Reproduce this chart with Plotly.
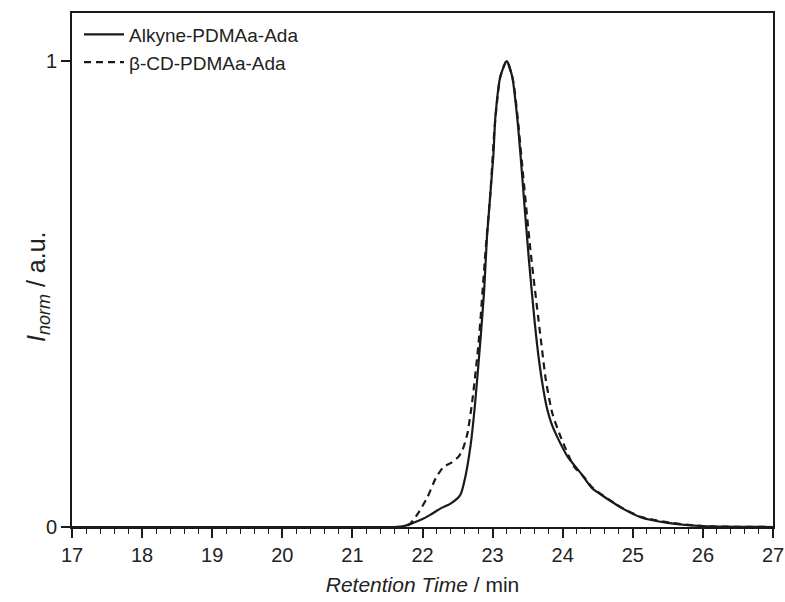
import plotly.graph_objects as go

# Retention time (min) and normalised intensity
t_alkyne = [17.0, 21.5, 21.69, 21.87, 22.0, 22.11, 22.26, 22.4, 22.54, 22.61, 22.69, 22.75,
            22.83, 22.88, 22.92, 23.01, 23.04, 23.11, 23.2, 23.28, 23.35, 23.4, 23.46, 23.52,
            23.6, 23.66, 23.73, 23.78, 23.84, 23.92, 24.07, 24.26, 24.42, 24.64, 24.85,
            25.11, 25.5, 26.0, 27.0]
i_alkyne = [0.0, 0.0, 0.0, 0.009, 0.017, 0.026, 0.04, 0.05, 0.069, 0.107, 0.18, 0.265,
            0.408, 0.509, 0.623, 0.795, 0.88, 0.966, 1.0, 0.966, 0.88, 0.795, 0.68, 0.57,
            0.44, 0.36, 0.29, 0.252, 0.222, 0.194, 0.151, 0.115, 0.083, 0.06, 0.04,
            0.021, 0.009, 0.002, 0.0]

t_cd = [17.0, 21.6, 21.8, 21.94, 22.07, 22.19, 22.3, 22.4, 22.51, 22.57, 22.64, 22.71,
        22.8, 22.9, 22.97, 23.03, 23.11, 23.2, 23.29, 23.36, 23.42, 23.54, 23.69, 23.76,
        23.85, 23.97, 24.16, 24.3, 24.42, 24.64, 24.85, 25.11, 25.5, 26.0, 27.0]
i_cd = [0.0, 0.0, 0.004, 0.03, 0.064, 0.105, 0.129, 0.137, 0.15, 0.165, 0.2, 0.27,
        0.395, 0.594, 0.72, 0.86, 0.966, 1.0, 0.96, 0.875, 0.78, 0.594, 0.40, 0.315,
        0.245, 0.194, 0.13, 0.108, 0.085, 0.061, 0.041, 0.022, 0.01, 0.002, 0.0]

names = ["Alkyne-PDMAa-Ada", "β-CD-PDMAa-Ada"]
x_ticks = list(range(17, 28))
y_ticks = [0, 1]

FONT = "Liberation Sans, Arial, sans-serif"
INK = "#1a1a1a"

fig = go.Figure()
fig.add_trace(go.Scatter(x=t_alkyne, y=i_alkyne, mode="lines", name=names[0],
                         line=dict(color=INK, width=2.2, shape="spline", smoothing=0.6)))
fig.add_trace(go.Scatter(x=t_cd, y=i_cd, mode="lines", name=names[1],
                         line=dict(color=INK, width=2.2, dash="7px,5px",
                                   shape="spline", smoothing=0.6)))

fig.update_layout(
    width=785, height=602,
    margin=dict(l=72, r=12, t=13, b=75),
    plot_bgcolor="white", paper_bgcolor="white",
    font=dict(family=FONT, color="#222222", size=18),
    showlegend=True,
    legend=dict(x=0.01, y=0.995, xanchor="left", yanchor="top",
                bgcolor="rgba(0,0,0,0)", font=dict(size=19), tracegroupgap=0,
                itemwidth=40),
    xaxis=dict(range=[17, 27], tickvals=x_ticks, ticktext=[str(v) for v in x_ticks],
               ticks="outside", ticklen=9, tickwidth=1.6, tickcolor=INK,
               showline=True, linecolor=INK, linewidth=2, mirror=True,
               showgrid=False, zeroline=False, automargin=False,
               ticklabeloverflow="allow",
               minor=dict(dtick=0.2, ticks="outside", ticklen=5, tickwidth=1.4,
                          tickcolor=INK, showgrid=False),
               tickfont=dict(size=20),
               title=dict(text="<i>Retention Time</i> / min",
                          font=dict(size=21), standoff=12)),
    yaxis=dict(range=[0, 1.103], tickvals=y_ticks, ticktext=["0", "1"],
               ticks="outside", ticklen=9, tickwidth=1.6, tickcolor=INK,
               showline=True, linecolor=INK, linewidth=2, mirror=True,
               showgrid=False, zeroline=False, automargin=False,
               ticklabeloverflow="allow",
               tickfont=dict(size=20)),
    annotations=[dict(text="<i>I</i><sub><span style='font-size:18px'><i>norm</i></span></sub> / a.u.",
                      textangle=-90,
                      xref="paper", yref="paper", x=-0.0485, y=0.467,
                      xanchor="center", yanchor="middle", showarrow=False,
                      font=dict(size=25, family=FONT, color="#222222"))],
)

fig.write_html("out.html")
